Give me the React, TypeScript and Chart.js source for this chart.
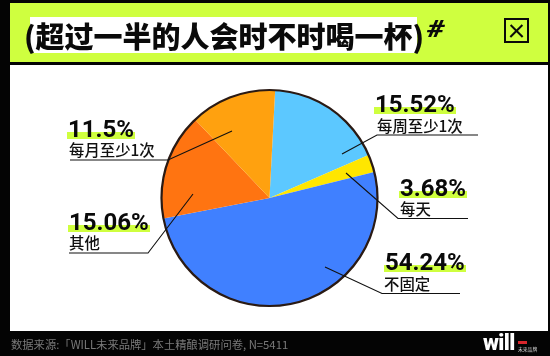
import React, { useEffect, useRef } from "react";
import { Chart, registerables } from "chart.js";

Chart.register(...registerables);

const categories = ["每周至少1次", "每天", "不固定", "其他", "每月至少1次"];
const printedLabels = ["15.52%", "3.68%", "54.24%", "15.06%", "11.5%"];
// Slice shares as they are actually drawn in the picture (percent of the circle)
const drawnShares = [17.64, 2.64, 50.83, 15.97, 12.92];
const colors = ["#5CC8FF", "#FFE600", "#4080FF", "#FF7411", "#FFA10F"];

const titleText = "(超过一半的人会时不时喝一杯)";
const footerText = "数据来源:「WILL未来品牌」本土精酿调研问卷, N=5411";

// leader polylines, in page pixels, same order as categories
const leaders: number[][][] = [
  [[342, 154], [377, 135], [478, 135]],
  [[346, 173], [398, 218.5], [468, 218.5]],
  [[325, 267], [382, 293.5], [460, 293.5]],
  [[193, 194], [148, 253], [69, 253]],
  [[232, 131], [168, 160], [70, 160]],
];
// [left, top of value text, left of category text, top of category text]
const labelPos = [
  [374, 91, 377, 115],
  [399, 175, 400, 198],
  [384, 249, 384, 273],
  [68, 209, 69, 232],
  [67, 116, 69, 139],
];

const NUM_FONT = '"Roboto", "Noto Sans CJK SC", sans-serif';
const CJK_FONT = '"Noto Sans CJK SC", sans-serif';

const overlay = {
  id: "overlay",
  afterDatasetsDraw(chart: any) {
    const { ctx } = chart;
    const arc = chart.getDatasetMeta(0).data[0];
    ctx.save();
    ctx.strokeStyle = "#2A1A14";
    ctx.lineWidth = 2.2;
    ctx.beginPath();
    ctx.arc(arc.x, arc.y, arc.outerRadius, 0, Math.PI * 2);
    ctx.stroke();
    ctx.strokeStyle = "#111";
    ctx.lineWidth = 1.1;
    leaders.forEach((pts) => {
      ctx.beginPath();
      pts.forEach(([x, y], i) => (i ? ctx.lineTo(x, y) : ctx.moveTo(x, y)));
      ctx.stroke();
    });
    ctx.restore();
  },
};

const abs = (left: number, top: number, extra: React.CSSProperties = {}): React.CSSProperties => ({
  position: "absolute",
  left,
  top,
  whiteSpace: "nowrap",
  ...extra,
});

const xBar = (deg: number): React.CSSProperties => ({
  position: "absolute",
  left: 2,
  top: 9.5,
  width: 17,
  height: 2.4,
  background: "#0A0A0A",
  transform: `rotate(${deg}deg)`,
});

export default function App() {
  const ref = useRef<HTMLCanvasElement>(null);
  useEffect(() => {
    document.body.style.margin = "0";
    const chart = new Chart(ref.current!, {
      type: "pie",
      data: {
        labels: categories,
        datasets: [{ data: drawnShares, backgroundColor: colors, borderWidth: 0 }],
      },
      options: {
        responsive: false,
        animation: false,
        rotation: 3,
        layout: { padding: { left: 161.5, right: 172.5, top: 90, bottom: 50 } },
        plugins: { legend: { display: false }, tooltip: { enabled: false }, title: { display: false } },
      },
      plugins: [overlay],
    });
    return () => chart.destroy();
  }, []);

  return (
    <div style={{ position: "fixed", left: 0, top: 0, width: 550, height: 356, background: "#040404", overflow: "hidden" }}>
      <div style={abs(10, 3, { width: 538, height: 59, background: "#CFFF3F" })} />
      <div style={abs(10, 65, { width: 538, height: 266, background: "#FFFFFF" })} />
      <div style={abs(30, 17, { width: 387, height: 36, background: "#FFFFFF" })} />
      <canvas ref={ref} width={550} height={356} style={{ position: "absolute", left: 0, top: 0, display: "block" }} />

      <div style={abs(24, 14, { font: `900 29px/42px ${CJK_FONT}`, color: "#0A0A0A" })}>{titleText}</div>
      <div style={abs(427, 15, { font: `italic 900 23px/30px ${NUM_FONT}`, color: "#0A0A0A", transform: "scaleX(1.35)", transformOrigin: "left center" })}>#</div>
      <div style={abs(504, 18, { width: 21, height: 21, border: "2.5px solid #0A0A0A" })}>
        <div style={xBar(45)} />
        <div style={xBar(-45)} />
      </div>

      {categories.map((c, i) => {
        const [vx, vy, cx, cy] = labelPos[i];
        return (
          <React.Fragment key={c}>
            <div style={abs(vx, vy, {
              font: `700 24px/26px ${NUM_FONT}`,
              color: "#0A0A0A",
              padding: "0 1px",
              background: "linear-gradient(to bottom, transparent 60%, #CFFF3F 60%, #CFFF3F 88%, transparent 88%)",
            })}>{printedLabels[i]}</div>
            <div style={abs(cx, cy, { font: `500 15.4px/20px ${CJK_FONT}`, color: "#111" })}>{c}</div>
          </React.Fragment>
        );
      })}

      <div style={abs(11, 335, { font: `400 11.3px/18px ${CJK_FONT}`, color: "#7A7A7A" })}>{footerText}</div>
      <div style={abs(483, 330, { font: `900 22px/26px ${NUM_FONT}`, color: "#FFFFFF", letterSpacing: -0.6 })}>will</div>
      <div style={abs(518, 341, { width: 9, height: 3, background: "#D8262C" })} />
      <div style={abs(518, 345, { font: `400 4.8px/7px ${CJK_FONT}`, color: "#DDD" })}>未来品牌</div>
    </div>
  );
}
